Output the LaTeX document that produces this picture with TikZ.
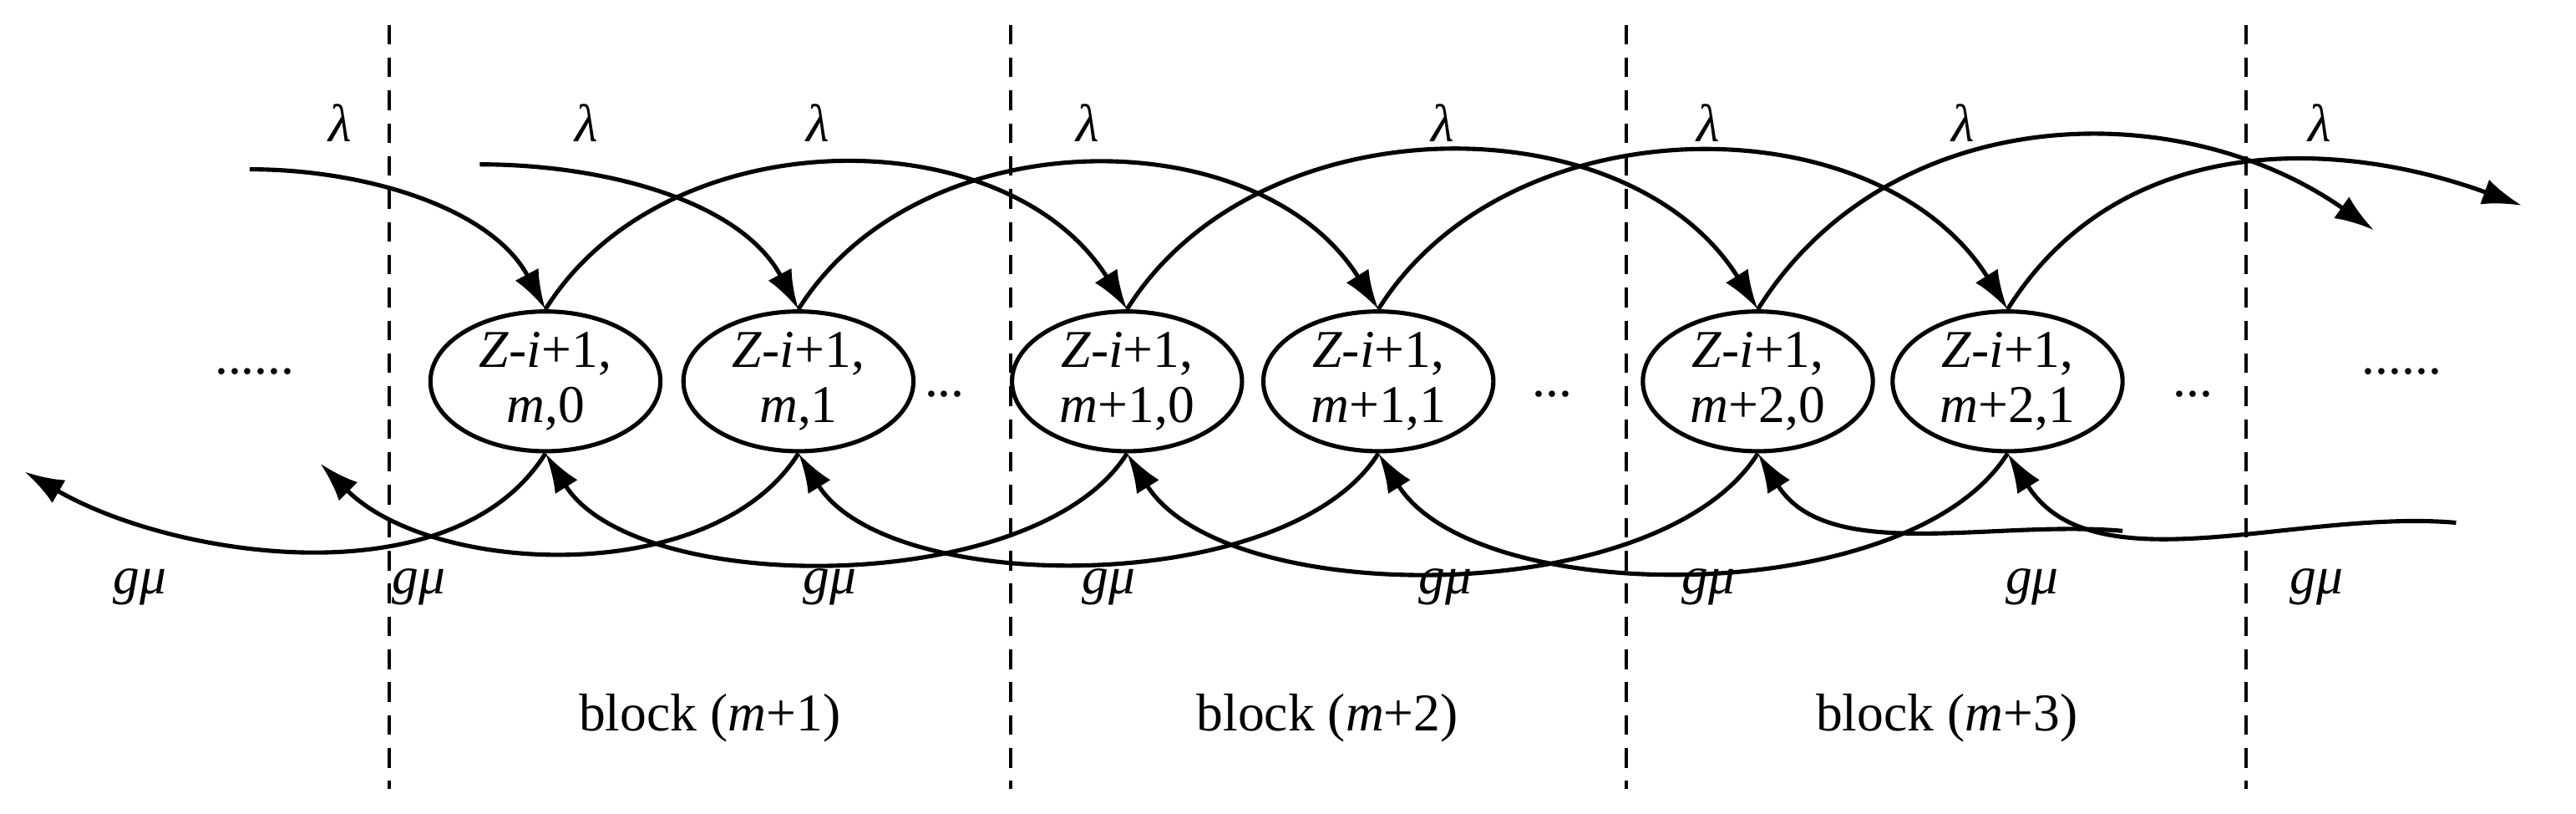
\documentclass[tikz,border=0pt]{standalone}
\usepackage{fontspec}
\setmainfont{Liberation Serif}
\usetikzlibrary{arrows.meta,shapes.geometric}
\begin{document}
\begin{tikzpicture}[x=0.5mm,y=-0.5mm,
  st/.style={draw,line width=1.3mm,ellipse,minimum width=70mm,minimum height=41mm,inner sep=0pt,align=center,font=\fontsize{46}{48}\selectfont},
  arc/.style={line width=1.3mm,-{Latex[length=12mm,width=8mm]}},
  dl/.style={dash pattern=on 6mm off 4mm,line width=1mm},
  lb/.style={font=\fontsize{46}{48}\selectfont\itshape},
  tx/.style={font=\fontsize{46}{48}\selectfont}]
\useasboundingbox (0,0) rectangle (1568,495);
\foreach \x/\n in {237/d1,615/d2,990/d3,1367/d4}{
  \coordinate (\n t) at (\x,15); \coordinate (\n b) at (\x,480);
  \draw[dl] (\n t) -- (\n b);}
\node[st] (a) at (332,232) {\textit{Z}-\textit{i}+1,\\\textit{m},0};
\node[st] (b) at (486,232) {\textit{Z}-\textit{i}+1,\\\textit{m},1};
\node[st] (c) at (686,232) {\textit{Z}-\textit{i}+1,\\\textit{m}+1,0};
\node[st] (d) at (839,232) {\textit{Z}-\textit{i}+1,\\\textit{m}+1,1};
\node[st] (e) at (1070,232) {\textit{Z}-\textit{i}+1,\\\textit{m}+2,0};
\node[st] (f) at (1222,232) {\textit{Z}-\textit{i}+1,\\\textit{m}+2,1};
\node[tx] (dotsL) at (155,226) {......};
\node[tx] (dotsR) at (1462,226) {......};
\node[tx] (e1) at (575,240) {...};
\node[tx] (e2) at (945,240) {...};
\node[tx] (e3) at (1335,240) {...};
\coordinate (s1) at (152,103); \coordinate (s2) at (292,100);
\coordinate (t1) at (1445,140); \coordinate (t2) at (1535,125);
\coordinate (u1) at (1292,323); \coordinate (u2) at (1495,318);
\coordinate (v1) at (15,287); \coordinate (v2) at (195,282);
% top arcs
\draw[arc] (s1) to[out=0,in=118,looseness=0.9] (a.north);
\draw[arc] (s2) to[out=0,in=118,looseness=0.9] (b.north);
\draw[arc] (a.north) to[out=58,in=122,looseness=1.0] (c.north);
\draw[arc] (b.north) to[out=58,in=122,looseness=1.0] (d.north);
\draw[arc] (c.north) to[out=58,in=122,looseness=1.0] (e.north);
\draw[arc] (d.north) to[out=58,in=122,looseness=1.0] (f.north);
\draw[arc] (e.north) to[out=58,in=145,looseness=1.0] (t1);
\draw[arc] (f.north) to[out=58,in=160,looseness=1.0] (t2);
% bottom arcs
\draw[arc] (c.south) to[out=-122,in=-58,looseness=0.75] (a.south);
\draw[arc] (d.south) to[out=-122,in=-58,looseness=0.75] (b.south);
\draw[arc] (e.south) to[out=-122,in=-58,looseness=0.75] (c.south);
\draw[arc] (f.south) to[out=-122,in=-58,looseness=0.75] (d.south);
\draw[arc] (u1) to[out=175,in=-58,looseness=0.9] (e.south);
\draw[arc] (u2) to[out=175,in=-58,looseness=0.9] (f.south);
\draw[arc] (a.south) to[out=-122,in=-30,looseness=0.85] (v1);
\draw[arc] (b.south) to[out=-122,in=-45,looseness=0.85] (v2);
\foreach \x [count=\i] in {207,357,498,662,878,1040,1195,1412}
  \node[lb] (l\i) at (\x,75) {λ};
\foreach \x [count=\i] in {85,255,505,675,880,1040,1237,1410}
  \node[lb] (g\i) at (\x,357) {gμ};
\node[tx] (k1) at (432,437) {block (\textit{m}+1)};
\node[tx] (k2) at (808,437) {block (\textit{m}+2)};
\node[tx] (k3) at (1185,437) {block (\textit{m}+3)};
\end{tikzpicture}
\end{document}
